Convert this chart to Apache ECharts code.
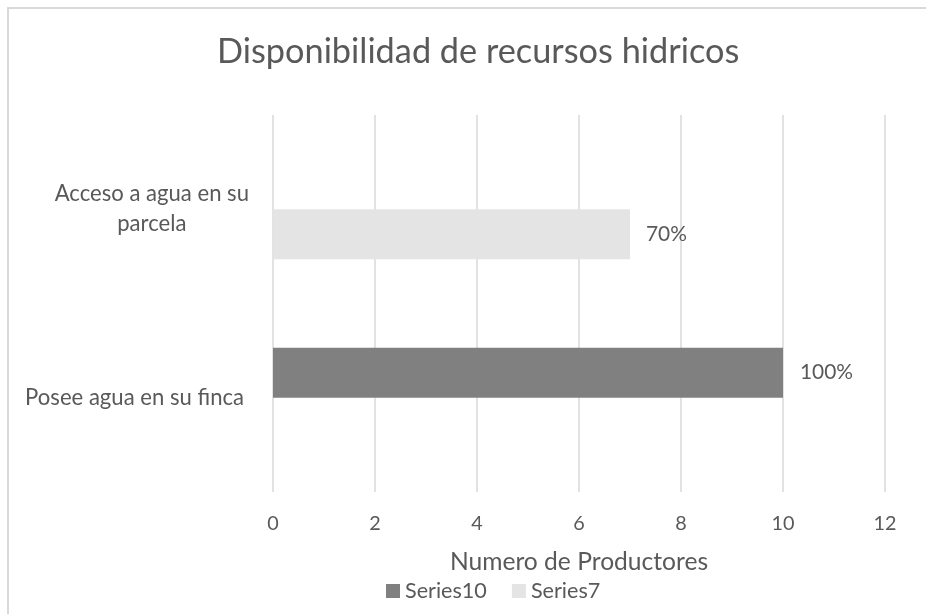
<!DOCTYPE html>
<html>
<head>
<meta charset="utf-8">
<title>Disponibilidad de recursos hidricos</title>
<script src="https://cdn.jsdelivr.net/npm/echarts@6/dist/echarts.min.js"></script>
<style>
  html, body { margin: 0; padding: 0; background: #fff; }
  #wrap { position: relative; width: 926px; height: 614px; overflow: hidden; }
  #frame {
    position: absolute; left: 7px; top: 7px; width: 1000px; height: 700px;
    border-left: 2px solid #d9d9d9; border-top: 2px solid #d9d9d9;
  }
  #chart { position: absolute; left: 0; top: 0; width: 926px; height: 614px; }
</style>
</head>
<body>
<div id="wrap">
  <div id="frame"></div>
  <div id="chart"></div>
</div>
<script>
// categories, bottom to top as drawn
const categories = ['Posee agua en su finca', 'Acceso a agua en su parcela'];
// each series only has a bar in one category
const series10 = [10, '-'];
const series7 = ['-', 7];
const labels10 = ['100%', ''];
const labels7 = ['', '70%'];
const xTicks = [0, 2, 4, 6, 8, 10, 12];

const FONT = 'Lato, "Open Sans", sans-serif';
const TEXT = '#595959';

// pick a font size so a string gets the width it has in the picture
const ctx = document.createElement('canvas').getContext('2d');
function textWidth(text, size) {
  ctx.font = size + 'px ' + FONT;
  return ctx.measureText(text).width;
}
function fit(text, width) {
  return Math.round(100 * width / textWidth(text, 100) * 10) / 10;
}
const titleSize = fit('Disponibilidad de recursos hidricos', 523);
const catSize = fit('Posee agua en su finca', 219);
const nameSize = fit('Numero de Productores', 258);
const legendSize = fit('Series10', 82);
const labelSize = fit('100%', 53);
const tickSize = fit('10', 23);

// second line of the wrapped label is centred under the first
const wrapPad = (textWidth('Acceso a agua en su', catSize) - textWidth('parcela', catSize)) / 2;

const myChart = echarts.init(document.getElementById('chart'));

const option = {
  animation: false,
  textStyle: { fontFamily: FONT, color: TEXT },
  title: {
    text: 'Disponibilidad de recursos hidricos',
    left: 212,
    top: 30,
    textStyle: { fontFamily: FONT, fontSize: titleSize, fontWeight: 'normal', color: TEXT }
  },
  legend: {
    data: ['Series10', 'Series7'],
    left: 381,
    top: 575,
    icon: 'rect',
    itemWidth: 14,
    itemHeight: 14,
    itemGap: 25,
    textStyle: { fontFamily: FONT, fontSize: legendSize, color: TEXT }
  },
  grid: {
    left: 273,
    right: 41,
    top: 115,
    bottom: 122,
    containLabel: false
  },
  xAxis: {
    type: 'value',
    min: xTicks[0],
    max: xTicks[xTicks.length - 1],
    interval: 2,
    name: 'Numero de Productores',
    nameLocation: 'middle',
    nameGap: 70,
    nameTextStyle: { fontFamily: FONT, fontSize: nameSize, color: TEXT, verticalAlign: 'middle' },
    axisLine: { show: false },
    axisTick: { show: false },
    axisLabel: { margin: 22, fontFamily: FONT, fontSize: tickSize, color: TEXT },
    splitLine: { lineStyle: { color: '#d9d9d9', width: 1.5 } }
  },
  yAxis: {
    type: 'category',
    data: categories,
    axisLine: { show: false },
    axisTick: { show: false },
    axisLabel: {
      margin: 24,
      formatter: function (v) {
        if (v === 'Acceso a agua en su parcela') {
          return '{w|Acceso a agua en su}\n{c|parcela}';
        }
        return '{p|' + v + '}';
      },
      rich: {
        w: { fontFamily: FONT, fontSize: catSize, color: TEXT, lineHeight: 30 },
        c: { fontFamily: FONT, fontSize: catSize, color: TEXT, lineHeight: 30, padding: [0, wrapPad, 0, 0] },
        p: { fontFamily: FONT, fontSize: catSize, color: TEXT, padding: [0, 5, 0, 0] }
      }
    }
  },
  series: [
    {
      name: 'Series10',
      type: 'bar',
      data: series10,
      barWidth: 50,
      barGap: '0%',
      itemStyle: { color: '#808080' },
      label: {
        show: true,
        position: 'right',
        distance: 17,
        formatter: function (p) { return labels10[p.dataIndex]; },
        fontFamily: FONT, fontSize: labelSize, color: TEXT
      }
    },
    {
      name: 'Series7',
      type: 'bar',
      data: series7,
      barWidth: 50,
      barGap: '0%',
      itemStyle: { color: '#e4e4e4' },
      label: {
        show: true,
        position: 'right',
        distance: 16,
        formatter: function (p) { return labels7[p.dataIndex]; },
        fontFamily: FONT, fontSize: labelSize, color: TEXT
      }
    }
  ]
};

myChart.setOption(option);
</script>
</body>
</html>
